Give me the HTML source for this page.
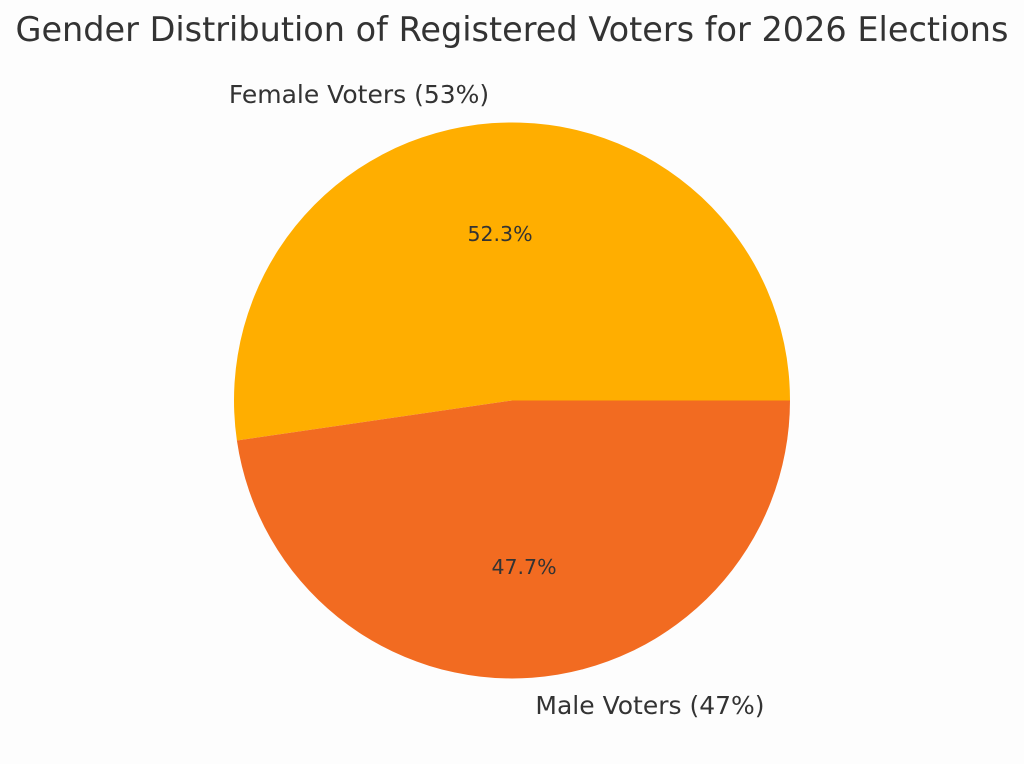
<!DOCTYPE html>
<html><head><meta charset="utf-8"><style>
html,body{margin:0;padding:0;background:#fdfdfd;}
svg{display:block;}
text{font-family:"DejaVu Sans","Liberation Sans",sans-serif;fill:#333;}
</style></head><body>
<svg width="1024" height="764" viewBox="0 0 1024 764" xmlns="http://www.w3.org/2000/svg">
<rect width="1024" height="764" fill="#fdfdfd"/>
<text x="512" y="41" font-size="33.5" text-anchor="middle">Gender Distribution of Registered Voters for 2026 Elections</text>
<path d="M512,400.5 L790,400.5 A278,278 0 1 0 236.9,440.5 Z" fill="#FFAE00"/>
<path d="M512,400.5 L236.9,440.5 A278,278 0 0 0 790,400.5 Z" fill="#F26B21"/>
<text x="359" y="103" font-size="25" text-anchor="middle">Female Voters (53%)</text>
<text x="650" y="714" font-size="25" text-anchor="middle">Male Voters (47%)</text>
<text x="500" y="241" font-size="20.5" text-anchor="middle">52.3%</text>
<text x="524" y="574" font-size="20.5" text-anchor="middle">47.7%</text>
</svg>
</body></html>
